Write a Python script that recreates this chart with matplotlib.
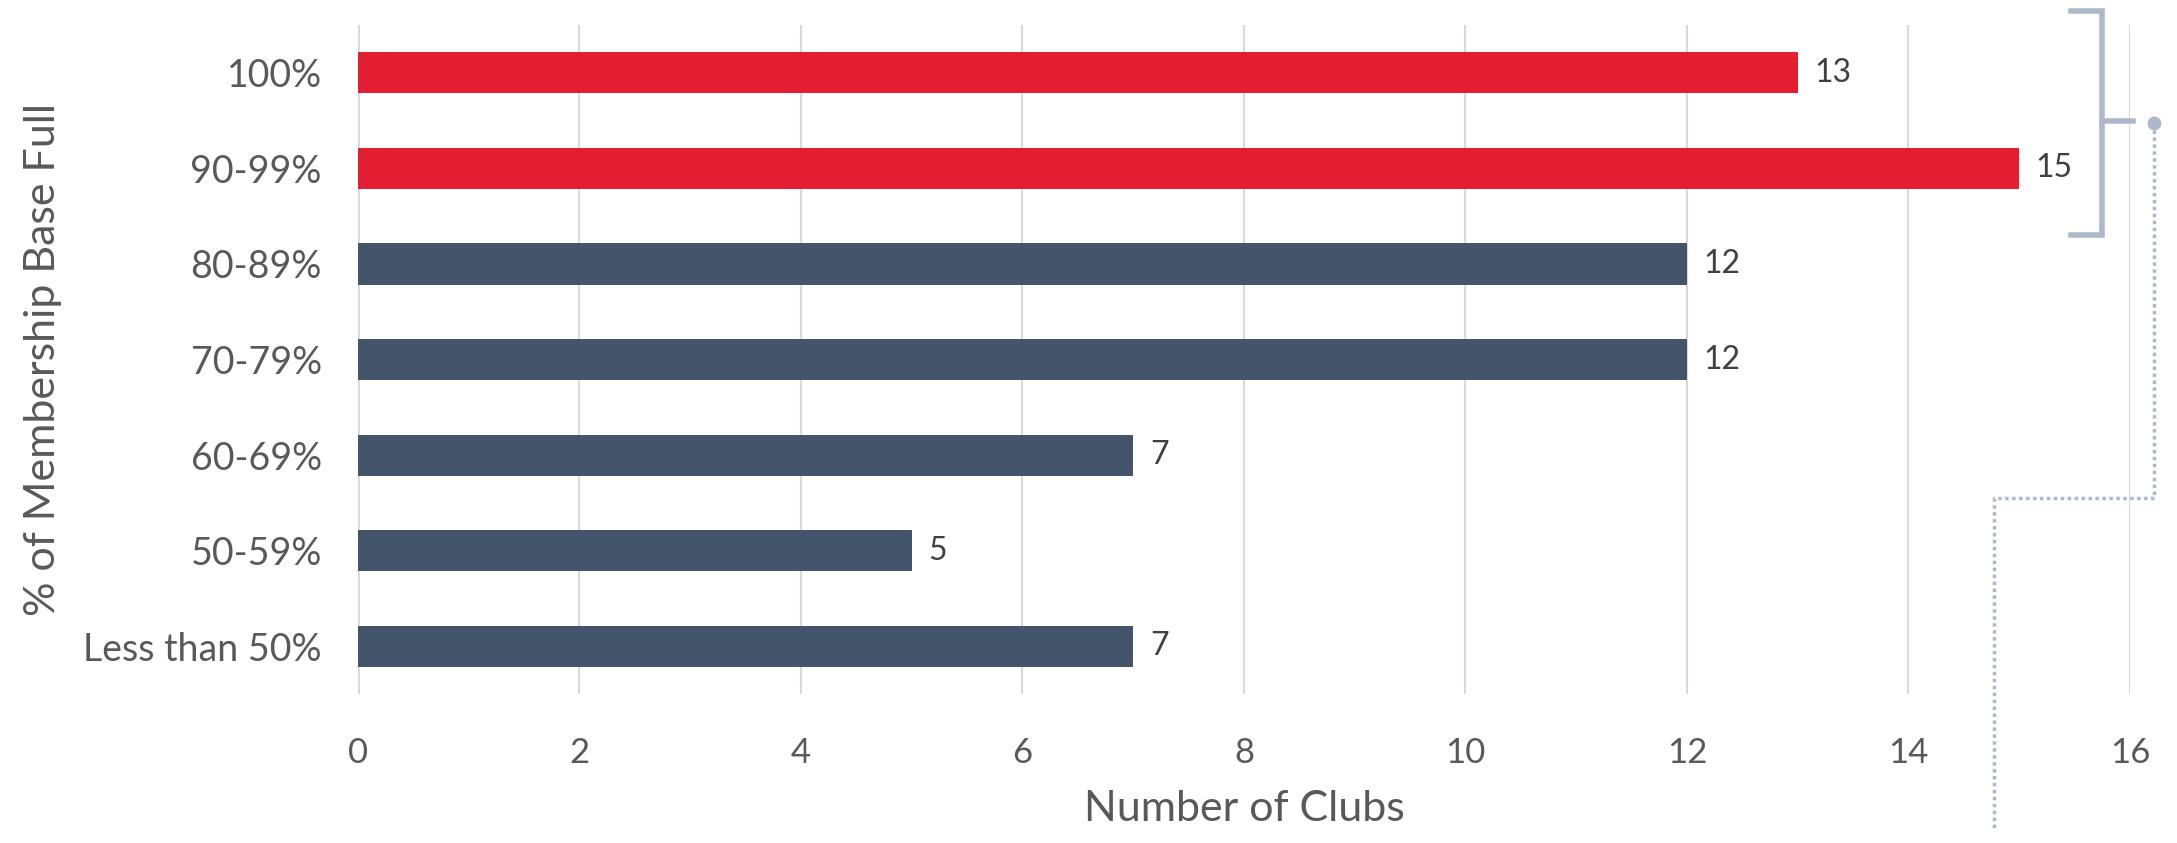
import matplotlib
matplotlib.use("Agg")
import matplotlib.pyplot as plt

# data (top to bottom)
categories = ["100%", "90-99%", "80-89%", "70-79%", "60-69%", "50-59%", "Less than 50%"]
clubs = [13, 15, 12, 12, 7, 5, 7]
highlight = [True, True, False, False, False, False, False]
x_ticks = [0, 2, 4, 6, 8, 10, 12, 14, 16]

RED = "#E31E30"
SLATE = "#44546A"
BRACKET = "#ADB9CA"
TEXT = "#595959"

plt.rcParams["font.family"] = ["Lato", "DejaVu Sans"]

fig = plt.figure(figsize=(21.77, 8.43), dpi=100)
ax = fig.add_axes([0.1644, 0.1767, 0.814, 0.7936])

ypos = list(range(len(categories)))
colors = [RED if h else SLATE for h in highlight]
ax.barh(ypos, clubs, height=0.43, color=colors, zorder=3)

for y, v in zip(ypos, clubs):
    ax.text(v + 0.15, y, str(v), va="center", ha="left", fontsize=23, color="#404040")

ax.set_xlim(0, 16)
ax.set_ylim(len(categories) - 0.5, -0.5)
ax.set_yticks(ypos)
ax.set_yticklabels(categories, fontsize=27, color=TEXT)
ax.set_xticks(x_ticks)
ax.set_xticklabels([str(t) for t in x_ticks], fontsize=25, color=TEXT)
ax.tick_params(axis="both", length=0)
ax.tick_params(axis="x", pad=31)
ax.tick_params(axis="y", pad=26)

ax.grid(axis="x", color="#D9D9D9", linewidth=1.5, zorder=0)
ax.axvline(0, color="#D9D9D9", linewidth=2, zorder=1)
for s in ax.spines.values():
    s.set_visible(False)

ax.set_xlabel("Number of Clubs", fontsize=31, color=TEXT, va="top")
ax.xaxis.set_label_coords(0.5, -0.143)
ax.set_ylabel("% of Membership Base Full", fontsize=31, color=TEXT)
ax.yaxis.set_label_coords(-0.167, 0.5)

# bracket around the two highlighted bars, with a dotted leader line
bx = 15.75
ax.plot([15.47, bx, bx, 15.47], [-0.65, -0.65, 1.70, 1.70], color=BRACKET,
        linewidth=4, clip_on=False, solid_joinstyle="miter", zorder=4)
ax.plot([bx, 16.03], [0.5, 0.5], color=BRACKET, linewidth=4, clip_on=False, zorder=4)
ax.plot([16.22], [0.53], "o", color=BRACKET, markersize=9, clip_on=False, zorder=4)
ax.plot([16.22, 16.22, 14.77, 14.77], [0.53, 4.45, 4.45, 7.9], color=BRACKET,
        linewidth=2.5, linestyle=(0, (1, 1)), clip_on=False, zorder=4)

fig.savefig("out.png", dpi=100)
